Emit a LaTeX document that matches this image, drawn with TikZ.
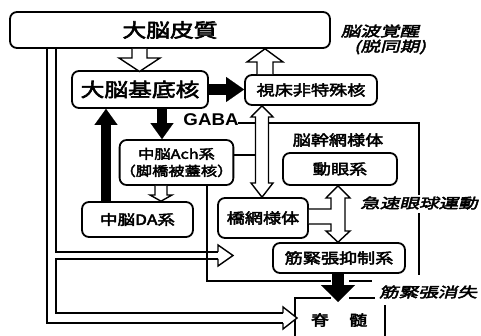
\documentclass[tikz,border=0pt]{standalone}
\usepackage{fontspec}
\usetikzlibrary{arrows.meta}
\newfontfamily\jpf[FakeStretch=1.25,FakeBold=3]{Noto Sans CJK JP}
\newfontfamily\jpi[FakeStretch=1.4,FakeBold=3,FakeSlant=0.25]{Noto Sans CJK JP}
\newfontfamily\gabaf[FakeStretch=1.1]{Liberation Sans}
\begin{document}
\begin{tikzpicture}[x=1pt,y={(0pt,-1pt)},
  box/.style={draw, line width=1.8pt, rounded corners=7pt, inner sep=0pt, align=center},
  lbl/.style={inner sep=0pt, align=center},
  ln/.style={line width=1.4pt},
  warr/.style={draw, fill=white, line width=1.4pt, line join=miter},
  blka/.style={line width=10pt, -{Triangle[width=23pt,length=16pt,line width=0.1pt]}},
  blkb/.style={line width=11pt, -{Triangle[width=25pt,length=18pt,line width=0.1pt]}},
  blkc/.style={line width=12pt, -{Triangle[width=34pt,length=17pt,line width=0.1pt]}},
  big/.style={font=\jpf\fontsize{19}{21}\selectfont},
  mid/.style={font=\jpf\fontsize{14.5}{17}\selectfont},
  sml/.style={font=\jpf\fontsize{13}{17}\selectfont},
  ital/.style={font=\jpi\fontsize{14}{15}\selectfont}]
\useasboundingbox (0,0) rectangle (481,336);

% boxes
\node[box, big, minimum width=320pt, minimum height=36pt] (cortex) at (170,30) {大脳皮質};
\node[box, big, minimum width=136pt, minimum height=37pt] (bg) at (140,89.5) {大脳基底核};
\node[box, mid, minimum width=132pt, minimum height=30pt] (thal) at (311,90) {視床非特殊核};
\node[box, sml, minimum width=113pt, minimum height=45pt] (ach) at (176.5,162.5) {中脳Ach系\\（脚橋被蓋核）};
\node[box, font=\jpf\fontsize{14}{17}\selectfont, minimum width=111pt, minimum height=35pt] (da) at (137.5,219.5) {中脳DA系};
\node[box, mid, minimum width=90pt, minimum height=40pt] (pons) at (263,218) {橋網様体};
\node[box, mid, minimum width=114pt, minimum height=32pt] (oculo) at (340,169) {動眼系};
\node[box, mid, minimum width=132pt, minimum height=30pt] (inhib) at (339,258) {筋緊張抑制系};
\node[lbl, mid] (spinal) at (339,320) {脊\hspace{20pt}髄};

% labels
\node[lbl, mid] (rf) at (338,140) {脳幹網様体};
\node[lbl, ital] (eeg) at (380,31) {脳波覚醒};
\node[lbl, ital] (desync) at (390,47) {(脱同期)};
\node[lbl, ital] (rem) at (419,203) {急速眼球運動};
\node[lbl, ital] (atonia) at (428,292) {筋緊張消失};
\node[lbl, font=\gabaf\bfseries\fontsize{17}{19}\selectfont] (gaba) at (211,120) {GABA};

% plain lines
\draw[ln] (238,123) -- (419,123) -- (419,195);
\draw[ln] (419,213) -- (419,275);
\draw[ln] (ach.east |- 0,155) -- (262,155);
\draw[ln] (207,185) -- (207,281) -- (331,281);
\draw[ln] (349,281) -- (372,281);
\draw[ln] (295,336) -- (295,298) -- (331,298);
\draw[ln] (349,298) -- (375,298);
\draw[ln] (385,305) -- (385,336);

% left double lines from cortex
\draw[ln] (47,48.8) -- (47,323) -- (283,323);
\draw[ln] (56,48.8) -- (56,252) -- (218,252);
\draw[ln] (218,259) -- (56,259) -- (56,313) -- (283,313);
\draw[warr] (218,252) -- (218,245) -- (233,255.5) -- (218,266) -- (218,259);
\draw[warr] (283,313) -- (283,307) -- (297,318) -- (283,329) -- (283,323);

% white arrows
\draw[warr] (132,48.9) -- (132,58) -- (119,58) -- (139.5,71.5) -- (160,58) -- (147,58) -- (147,48.9);
\draw[warr] (257,74.1) -- (257,62) -- (247,62) -- (265,48.8) -- (283,62) -- (273,62) -- (273,74.1);
\draw[warr] (262,105.8) -- (273,117) -- (268.5,117) -- (268.5,183) -- (273,183) -- (262,197.2) -- (251,183) -- (255.5,183) -- (255.5,117) -- (251,117) -- cycle;
\draw[warr] (155,185.9) -- (155,195) -- (150,195) -- (161,201.2) -- (172,195) -- (167,195) -- (167,185.9);
\draw[warr] (308.9,209) -- (331,209) -- (331,198) -- (326,198) -- (338,185.8) -- (350,198) -- (345,198) -- (345,231) -- (350,231) -- (338,242.2) -- (326,231) -- (331,231) -- (331,224) -- (308.9,224);

% black arrows
\draw[blkb] (bg.east) -- (bg.east -| thal.west);
\draw[blka] ([xshift=22pt]bg.south) -- ([xshift=22pt]bg.south |- ach.north);
\draw[blka] ([xshift=-31.5pt]da.north) -- ([xshift=-31.5pt]da.north |- bg.south);
\coordinate (sptop) at (338,302);
\draw[blkc] (inhib.south -| sptop) -- (sptop);
\end{tikzpicture}
\end{document}
